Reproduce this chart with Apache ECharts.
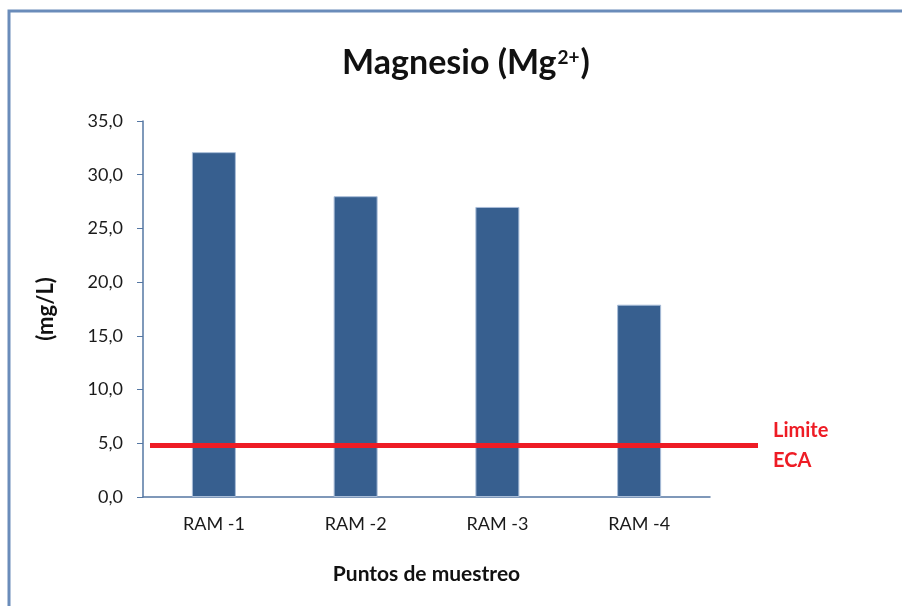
<!DOCTYPE html>
<html>
<head>
<meta charset="utf-8">
<script src="https://cdn.jsdelivr.net/npm/echarts@6/dist/echarts.min.js"></script>
<style>
  html, body { margin: 0; padding: 0; background: #ffffff; }
  #chart { width: 902px; height: 606px; }
</style>
</head>
<body>
<div id="chart"></div>
<script>
// Magnesium concentration at each sampling point
const categories = ['RAM -1', 'RAM -2', 'RAM -3', 'RAM -4'];
const magnesio = [32.1, 28.0, 27.0, 17.9];
// ECA limit reference line
const limiteECA = 4.8;
const yTicks = { min: 0, max: 35, interval: 5 };

const FONT = 'Lato, "Open Sans", sans-serif';
const AXIS_COLOR = '#5577a3';

const chart = echarts.init(document.getElementById('chart'), null, { renderer: 'canvas' });

const gridTop = 121, gridBottom = 109;

chart.setOption({
  animation: false,
  backgroundColor: '#ffffff',
  graphic: [{
    type: 'rect',
    shape: { x: 9, y: 11, width: 1000, height: 1000 },
    style: { fill: 'none', stroke: '#6a8cba', lineWidth: 3 },
    silent: true
  }],
  title: {
    text: '{a|Magnesio (Mg}{s|2+}{a|)}',
    left: 461,
    top: 40,
    textAlign: 'center',
    textStyle: {
      rich: {
        a: { fontFamily: FONT, fontWeight: 'bold', fontSize: 34, color: '#111111', lineHeight: 36, verticalAlign: 'middle' },
        s: { fontFamily: FONT, fontWeight: 'bold', fontSize: 19, color: '#111111', lineHeight: 36, verticalAlign: 'top', padding: [3, 1, 0, 1] }
      }
    }
  },
  grid: [
    { left: 143, right: 192, top: gridTop, bottom: gridBottom },
    { left: 150, right: 144, top: gridTop, bottom: gridBottom }
  ],
  xAxis: [{
    type: 'category',
    gridIndex: 0,
    data: categories,
    axisLine: { lineStyle: { color: AXIS_COLOR, width: 1.5 } },
    axisTick: { alignWithLabel: true, length: 5, lineStyle: { color: AXIS_COLOR } },
    axisLabel: { fontFamily: FONT, fontSize: 18, color: '#1a1a1a', margin: 18 },
    name: 'Puntos de muestreo',
    nameLocation: 'middle',
    nameGap: 67,
    nameTextStyle: { fontFamily: FONT, fontWeight: 'bold', fontSize: 21, color: '#111111' }
  }, {
    type: 'value',
    gridIndex: 1,
    min: 0,
    max: 1,
    show: false
  }],
  yAxis: [{
    type: 'value',
    gridIndex: 0,
    min: yTicks.min,
    max: yTicks.max,
    interval: yTicks.interval,
    axisLine: { show: true, lineStyle: { color: AXIS_COLOR, width: 1.5 } },
    axisTick: { show: true, length: 6, lineStyle: { color: AXIS_COLOR } },
    splitLine: { show: false },
    axisLabel: {
      fontFamily: FONT, fontSize: 18, color: '#1a1a1a', margin: 20,
      formatter: v => v.toFixed(1).replace('.', ',')
    },
    name: '(mg/L)',
    nameLocation: 'middle',
    nameRotate: 90,
    nameGap: 86,
    nameTextStyle: { fontFamily: FONT, fontWeight: 'bold', fontSize: 22, color: '#111111' }
  }, {
    type: 'value',
    gridIndex: 1,
    min: yTicks.min,
    max: yTicks.max,
    interval: yTicks.interval,
    show: false
  }],
  series: [{
    type: 'bar',
    xAxisIndex: 0,
    yAxisIndex: 0,
    data: magnesio,
    barWidth: 44,
    itemStyle: { color: '#375f8f', borderColor: '#a9bdd8', borderWidth: 1 },
    z: 2
  }, {
    type: 'line',
    name: 'Limite ECA',
    xAxisIndex: 1,
    yAxisIndex: 1,
    data: [[0, limiteECA], [1, limiteECA]],
    symbol: 'none',
    lineStyle: { color: '#ee1c25', width: 5 },
    z: 3,
    endLabel: {
      show: true,
      formatter: 'Limite\nECA',
      distance: 15,
      fontFamily: FONT,
      fontWeight: 'bold',
      fontSize: 20,
      lineHeight: 30,
      color: '#ee1c25',
      align: 'left'
    }
  }]
});
</script>
</body>
</html>
